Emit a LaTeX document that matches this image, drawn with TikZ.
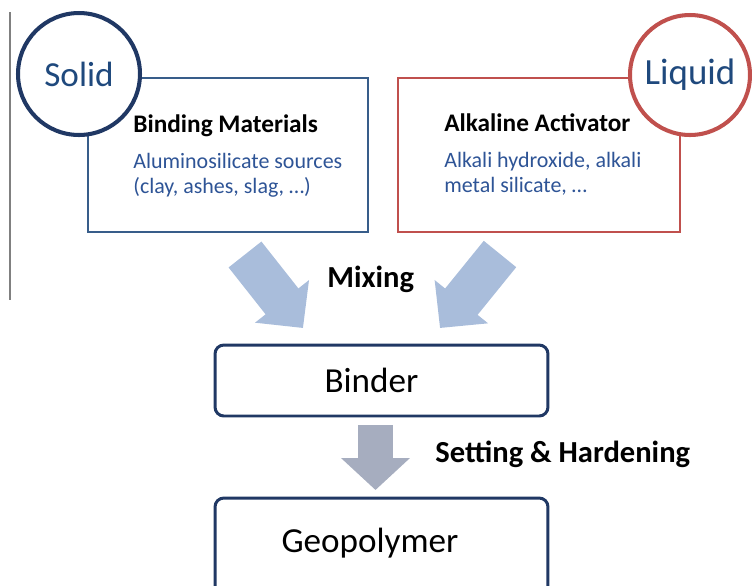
\documentclass[tikz,border=0pt]{standalone}
\usepackage{fontspec}
\setmainfont{Carlito}
\usetikzlibrary{arrows.meta}

\definecolor{navy}{RGB}{32,56,100}
\definecolor{boxblue}{RGB}{56,93,138}
\definecolor{txtblue}{RGB}{46,84,150}
\definecolor{phaseblue}{RGB}{31,73,125}
\definecolor{boxred}{RGB}{192,80,77}
\definecolor{mixblue}{RGB}{169,189,219}
\definecolor{setgray}{RGB}{166,173,191}

\tikzset{
  phase/.style={circle, draw, fill=white, line width=2.3pt, inner sep=0pt,
    minimum size=2.44cm, text=phaseblue, font=\fontsize{20}{24}\selectfont},
  matbox/.style={rectangle, draw, line width=1.4pt, inner sep=0pt,
    minimum width=5.6cm, minimum height=3.08cm},
  stage/.style={rectangle, draw=navy, rounded corners=5pt, line width=1.7pt,
    inner sep=0pt, minimum width=6.66cm},
  title/.style={anchor=base west, inner sep=0pt, font=\fontsize{14.4}{17}\selectfont\bfseries},
  detail/.style={anchor=base west, inner sep=0pt, text=txtblue, font=\fontsize{12.5}{15}\selectfont},
  process/.style={anchor=base west, inner sep=0pt, font=\fontsize{17.4}{20}\selectfont\bfseries},
  stagetext/.style={anchor=base, inner sep=0pt, font=\fontsize{20}{24}\selectfont},
  fatarrow/.style={draw=mixblue, line width=23.8pt, -{Triangle[width=38pt, length=19.3pt]}}
}

\begin{document}
\begin{tikzpicture}[x=0.02cm, y=-0.02cm]
\clip (0,0) rectangle (752,586);

% margin rule on the left
\draw [gray, line width=1.1pt] (10,12) -- (10,300);

% the two starting materials
\node [matbox, draw=boxblue] (binding) at (228,155) {};
\node [matbox, draw=boxred, minimum width=5.64cm] (activator) at (539,155) {};
\node [phase, draw=navy] (solid) at (79,74) {Solid};
\node [phase, draw=boxred, minimum size=2.4cm, font=\fontsize{21}{25}\selectfont] (liquid) at (690,75) {Liquid};

\node [title] (bindtitle) at (133,132) {Binding Materials};
\node [detail] (bindtxta) at (133,168) {Aluminosilicate sources};
\node [detail] (bindtxtb) at (133,193) {(clay, ashes, slag, …)};
\node [title] (acttitle) at (444,131) {Alkaline Activator};
\node [detail] (acttxta) at (444,167) {Alkali hydroxide, alkali};
\node [detail] (acttxtb) at (444,192) {metal silicate, …};

% products
\node [stage, minimum height=1.42cm] (binder) at (381.5,380.5) {};
\node [stagetext] (bindertxt) at (371.5,392) {Binder};
\node [stage, minimum height=2.04cm] (geopoly) at (381.5,549) {};
\node [stagetext] (geotxt) at (370,552) {Geopolymer};

% mixing
\coordinate (mixla) at (245,254.5);
\coordinate (mixlb) at (303,328);
\coordinate (mixra) at (500,254);
\coordinate (mixrb) at (440,328);
\draw [fatarrow] (mixla) -- (mixlb);
\draw [fatarrow] (mixra) -- (mixrb);
\node [process] (mixing) at (327,287) {Mixing};

% setting
\coordinate (seta) at (375.5,425);
\coordinate (setb) at (375.5,490);
\draw [fatarrow, draw=setgray, line width=19.8pt, -{Triangle[width=38pt, length=18.1pt]}] (seta) -- (setb);
\node [process] (setting) at (435,462) {Setting \& Hardening};
\end{tikzpicture}
\end{document}
